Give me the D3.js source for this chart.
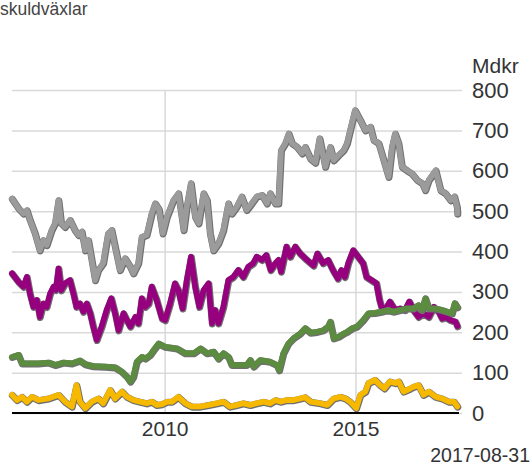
<!DOCTYPE html>
<html>
<head>
<meta charset="utf-8">
<script src="https://cdn.jsdelivr.net/npm/d3@7"></script>
<style>
  body { margin: 0; background: #fff; }
  svg { display: block; font-family: "Liberation Sans", Arial, sans-serif; }
</style>
</head>
<body>
<div id="chart"></div>
<script>
// values in Mdkr, time as decimal year
let grayData = [[2006.0,531],[2006.17,507],[2006.30,494],[2006.39,502],[2006.47,478],[2006.60,446],[2006.73,403],[2006.82,428],[2006.91,416],[2007.04,453],[2007.13,470],[2007.22,527],[2007.29,470],[2007.39,461],[2007.52,478],[2007.65,453],[2007.74,441],[2007.83,449],[2007.92,403],[2008.0,428],[2008.09,379],[2008.18,329],[2008.26,354],[2008.39,371],[2008.52,445],[2008.61,453],[2008.70,412],[2008.83,354],[2008.96,383],[2009.10,362],[2009.18,346],[2009.31,371],[2009.40,436],[2009.53,441],[2009.66,494],[2009.75,519],[2009.85,505],[2009.95,445],[2010.06,486],[2010.23,527],[2010.36,544],[2010.50,453],[2010.58,511],[2010.69,569],[2010.80,486],[2010.89,470],[2011.02,544],[2011.11,527],[2011.19,445],[2011.28,403],[2011.41,420],[2011.54,453],[2011.67,519],[2011.76,494],[2011.89,511],[2012.02,536],[2012.15,503],[2012.28,519],[2012.41,536],[2012.55,540],[2012.68,519],[2012.76,544],[2012.90,519],[2012.98,519],[2013.05,651],[2013.16,668],[2013.25,692],[2013.34,668],[2013.47,659],[2013.60,643],[2013.68,659],[2013.82,630],[2013.95,620],[2014.06,680],[2014.21,610],[2014.34,659],[2014.43,626],[2014.56,639],[2014.69,651],[2014.78,668],[2014.86,700],[2014.99,750],[2015.13,725],[2015.26,700],[2015.39,709],[2015.48,676],[2015.61,668],[2015.74,626],[2015.87,585],[2015.96,659],[2016.04,692],[2016.13,668],[2016.22,610],[2016.35,601],[2016.48,593],[2016.62,577],[2016.75,569],[2016.83,552],[2016.92,577],[2017.10,601],[2017.23,552],[2017.36,544],[2017.49,527],[2017.59,536],[2017.66,511],[2017.67,494]]
let purpleData = [[2006.0,346],[2006.17,325],[2006.30,313],[2006.39,337],[2006.47,296],[2006.56,263],[2006.65,280],[2006.73,238],[2006.82,271],[2006.91,263],[2007.00,296],[2007.09,313],[2007.15,305],[2007.22,358],[2007.29,304],[2007.39,321],[2007.52,329],[2007.61,296],[2007.69,263],[2007.78,271],[2007.87,251],[2007.96,271],[2008.05,247],[2008.13,214],[2008.22,181],[2008.35,214],[2008.48,255],[2008.60,284],[2008.70,247],[2008.79,205],[2008.92,247],[2009.01,230],[2009.10,214],[2009.23,238],[2009.31,222],[2009.40,284],[2009.49,263],[2009.58,271],[2009.66,313],[2009.79,280],[2009.93,234],[2010.01,230],[2010.14,271],[2010.27,321],[2010.36,304],[2010.47,259],[2010.58,329],[2010.69,387],[2010.80,313],[2010.91,263],[2011.02,304],[2011.15,321],[2011.24,222],[2011.32,255],[2011.41,222],[2011.54,263],[2011.67,329],[2011.80,337],[2011.93,354],[2012.06,337],[2012.19,362],[2012.32,371],[2012.41,387],[2012.55,379],[2012.66,391],[2012.78,354],[2012.90,371],[2012.98,379],[2013.05,350],[2013.19,412],[2013.29,387],[2013.42,412],[2013.55,395],[2013.73,379],[2013.90,365],[2014.00,395],[2014.15,371],[2014.28,379],[2014.41,354],[2014.54,333],[2014.63,354],[2014.72,337],[2014.81,371],[2014.94,403],[2015.07,387],[2015.20,371],[2015.29,337],[2015.42,329],[2015.55,321],[2015.63,280],[2015.68,263],[2015.77,255],[2015.90,276],[2016.04,255],[2016.17,259],[2016.30,255],[2016.41,276],[2016.52,255],[2016.65,238],[2016.78,247],[2016.92,238],[2017.05,263],[2017.18,251],[2017.27,234],[2017.36,238],[2017.49,230],[2017.62,226],[2017.67,215]]
let greenData = [[2006.0,139],[2006.17,144],[2006.26,123],[2006.43,123],[2006.69,123],[2006.96,125],[2007.13,119],[2007.35,125],[2007.57,123],[2007.78,130],[2007.92,121],[2008.13,116],[2008.44,115],[2008.70,113],[2008.88,102],[2009.01,90],[2009.10,78],[2009.18,90],[2009.27,127],[2009.40,139],[2009.49,135],[2009.62,144],[2009.71,156],[2009.84,172],[2010.01,164],[2010.32,160],[2010.54,148],[2010.76,148],[2010.94,160],[2011.11,148],[2011.28,152],[2011.41,135],[2011.54,148],[2011.67,139],[2011.76,119],[2011.98,119],[2012.15,119],[2012.24,131],[2012.33,115],[2012.50,131],[2012.76,127],[2012.94,119],[2013.00,106],[2013.11,148],[2013.24,172],[2013.37,185],[2013.55,197],[2013.68,210],[2013.82,199],[2013.99,201],[2014.15,205],[2014.28,214],[2014.34,226],[2014.43,185],[2014.56,189],[2014.69,197],[2014.78,201],[2014.91,210],[2015.04,214],[2015.20,230],[2015.34,247],[2015.51,248],[2015.68,251],[2015.85,255],[2015.99,251],[2016.17,255],[2016.35,259],[2016.52,259],[2016.65,267],[2016.74,255],[2016.83,284],[2016.92,259],[2017.10,259],[2017.27,255],[2017.40,251],[2017.53,247],[2017.60,272],[2017.67,262]]
let yellowData = [[2006.0,45],[2006.13,32],[2006.26,40],[2006.39,28],[2006.52,40],[2006.69,32],[2006.96,36],[2007.22,45],[2007.39,28],[2007.57,16],[2007.69,69],[2007.78,28],[2007.92,12],[2008.09,28],[2008.26,36],[2008.39,24],[2008.57,57],[2008.70,36],[2008.88,53],[2009.01,40],[2009.18,32],[2009.36,28],[2009.53,24],[2009.66,28],[2009.79,20],[2009.93,22],[2010.06,28],[2010.19,28],[2010.36,40],[2010.54,24],[2010.71,16],[2010.93,16],[2011.15,20],[2011.37,24],[2011.54,28],[2011.71,16],[2011.89,20],[2012.06,24],[2012.24,20],[2012.41,24],[2012.59,28],[2012.76,24],[2012.90,32],[2013.03,28],[2013.20,32],[2013.38,32],[2013.55,36],[2013.68,39],[2013.82,28],[2014.08,24],[2014.26,20],[2014.43,36],[2014.61,40],[2014.74,36],[2014.86,28],[2015.02,12],[2015.13,45],[2015.26,53],[2015.34,74],[2015.51,82],[2015.65,69],[2015.76,61],[2015.90,78],[2016.04,74],[2016.13,78],[2016.26,53],[2016.44,61],[2016.52,65],[2016.65,69],[2016.78,45],[2016.92,53],[2017.10,40],[2017.27,36],[2017.45,28],[2017.58,28],[2017.67,16]]

let yTicks = [0, 100, 200, 300, 400, 500, 600, 700, 800]
let xTickYears = [2010, 2015]
let title = 'skuldväxlar'
let unit = 'Mdkr'
let dateLabel = '2017-08-31'

let width = 532
let height = 467

function toDate(t) {
  let y = Math.floor(t)
  let start = new Date(y, 0, 1)
  let end = new Date(y + 1, 0, 1)
  return new Date(start.getTime() + (t - y) * (end - start))
}

let svg = d3.select('#chart').append('svg')
  .attr('width', width)
  .attr('height', height)

let xScale = d3.scaleTime()
  .domain([new Date(2006, 0, 1), new Date(2017, 8, 18)])
  .range([12, 459])
let yScale = d3.scaleLinear().domain([0, 800]).range([413, 90])

// -- grid
let yAxis = d3.axisRight(yScale).tickValues(yTicks).tickSize(-(462 - 12)).tickPadding(10)
svg.append('g')
  .attr('transform', 'translate(462, 0)')
  .call(yAxis)
  .call(g => g.select('.domain').remove())
  .call(g => g.selectAll('.tick line').attr('stroke', '#d9d9d9').attr('stroke-width', 1.5))
  .call(g => g.selectAll('.tick text')
    .attr('fill', '#333').attr('font-size', 22).attr('font-family', '"Liberation Sans", Arial, sans-serif'))

let xAxis = d3.axisBottom(xScale)
  .tickValues(xTickYears.map(y => new Date(y, 0, 1)))
  .tickFormat(d3.timeFormat('%Y'))
  .tickSize(-(413 - 90))
  .tickPadding(8)
svg.append('g')
  .attr('transform', 'translate(0, 413)')
  .call(xAxis)
  .call(g => g.select('.domain').remove())
  .call(g => g.selectAll('.tick line').attr('stroke', '#d9d9d9').attr('stroke-width', 1.5))
  .call(g => g.selectAll('.tick text')
    .attr('fill', '#333').attr('font-size', 21).attr('font-family', '"Liberation Sans", Arial, sans-serif'))

// -- lines
let line = d3.line()
  .x(d => xScale(toDate(d[0])))
  .y(d => yScale(d[1]))

let series = [
  { data: grayData, color: '#9b9b9b' },
  { data: purpleData, color: '#96007f' },
  { data: greenData, color: '#5b8c3f' },
  { data: yellowData, color: '#f7b800' }
]

series.forEach(s => {
  svg.append('path')
    .datum(s.data)
    .attr('d', line)
    .attr('fill', 'none')
    .attr('stroke', '#6f6f6f')
    .attr('stroke-width', 7)
    .attr('stroke-linejoin', 'round')
    .attr('stroke-linecap', 'round')
    .attr('transform', 'translate(0.4, 0.6)')
  svg.append('path')
    .datum(s.data)
    .attr('d', line)
    .attr('fill', 'none')
    .attr('stroke', s.color)
    .attr('stroke-width', 5.6)
    .attr('stroke-linejoin', 'round')
    .attr('stroke-linecap', 'round')
})

// -- baseline
svg.append('line')
  .attr('x1', 12).attr('x2', 459)
  .attr('y1', yScale(0)).attr('y2', yScale(0))
  .attr('stroke', '#000').attr('stroke-width', 2)

// -- texts
svg.append('text').attr('x', 0).attr('y', 15)
  .attr('font-size', 17.5).attr('fill', '#444').text(title)
svg.append('text').attr('x', 472).attr('y', 73)
  .attr('font-size', 21).attr('fill', '#333').text(unit)
svg.append('text').attr('x', 530).attr('y', 462)
  .attr('text-anchor', 'end')
  .attr('font-size', 19.5).attr('fill', '#333').text(dateLabel)
</script>
</body>
</html>
